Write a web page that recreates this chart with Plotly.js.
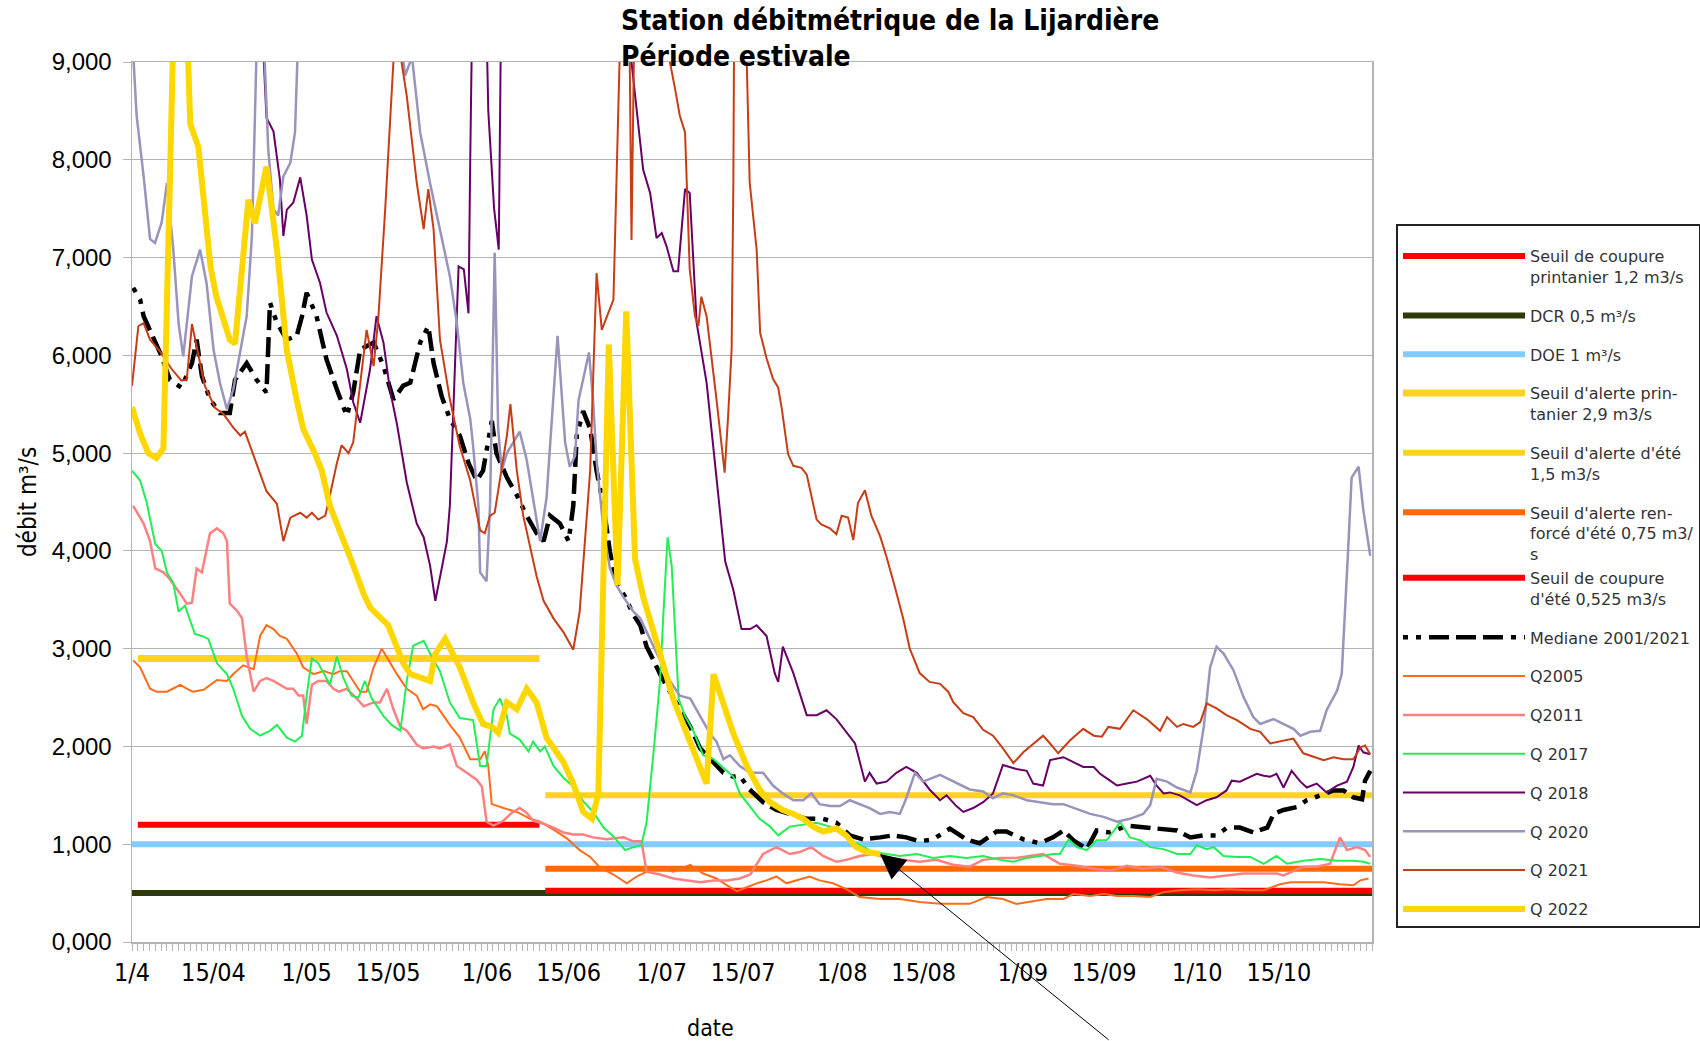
<!DOCTYPE html>
<html>
<head>
<meta charset="utf-8">
<script src="https://cdn.plot.ly/plotly-3.0.1.min.js"></script>
<style>
html,body{margin:0;padding:0;background:#fff;}
#chart{width:1700px;height:1041px;}
</style>
</head>
<body>
<div id="chart"></div>
<script>
// ---- Axis categories (day index from 1 April) ----
const tickDays = [0, 14, 30, 44, 61, 75, 91, 105, 122, 136, 153, 167, 183, 197];
const tickLabels = ['1/4', '15/04', '1/05', '15/05', '1/06', '15/06', '1/07', '15/07', '1/08', '15/08', '1/09', '15/09', '1/10', '15/10'];

// ---- Threshold lines ----
const springDays = [1, 70];
const summerDays = [71, 213];
const fullDays = [0, 213];
const seuilCoupurePrintanier = [1.2, 1.2];
const dcr = [0.5, 0.5];
const doe = [1.0, 1.0];
const seuilAlertePrintanier = [2.9, 2.9];
const seuilAlerteEte = [1.5, 1.5];
const seuilAlerteRenforce = [0.75, 0.75];
const seuilCoupureEte = [0.525, 0.525];

// ---- Mediane 2001/2021 ----
const medDays = [0.2,1.4,2,3.7,5.1,6.5,8.5,10.3,11.1,12,13.4,15.1,16.8,17.7,19.7,21.4,23.1,23.7,24.9,26.6,28.3,29.2,30,31.7,33.4,35.2,36.9,38,39.2,41.5,43.2,44.9,46.6,47.8,49.5,50.9,51.8,53.2,54.6,56.3,57.8,59.2,60.3,61.8,62.6,64.4,66.1,67.8,69.5,70.7,71.8,73.5,75,75.8,76.4,77.5,78.7,79.8,81,82.1,83.3,84.7,86.1,87.3,88.4,89.6,90.7,92.4,94.1,95.9,97.6,99.3,101.6,103.3,104.4,106.1,108.4,110.7,113,115.9,118.7,121,123.3,125.6,128.5,130.7,133,135.3,137.6,140.5,143.3,145.6,148.5,150.2,153.1,155.9,158.2,160,161.7,164,165.7,168,170.9,173.7,176.6,179.5,181.8,184.1,186.3,188.1,190.3,192.6,195,196.1,197.8,200.1,201.8,204.1,206.4,208.1,209.8,211.3,211.8,212.7];
const medVals = [6.69,6.57,6.4,6.16,5.99,5.75,5.67,5.92,6.16,5.79,5.55,5.41,5.41,5.75,5.92,5.75,5.62,6.54,6.33,6.16,6.2,6.4,6.64,6.4,5.96,5.65,5.38,5.62,6.06,6.13,5.89,5.55,5.69,5.72,6.13,6.3,5.92,5.58,5.35,5.18,4.9,4.72,4.82,5.33,5.0,4.75,4.57,4.36,4.18,4.1,4.36,4.28,4.1,4.46,5.18,5.43,5.25,4.82,4.46,3.99,3.67,3.53,3.35,3.24,3.02,2.88,2.74,2.56,2.38,2.2,1.98,1.87,1.73,1.69,1.7,1.56,1.43,1.35,1.31,1.26,1.26,1.22,1.09,1.05,1.07,1.09,1.07,1.03,1.05,1.16,1.05,1.01,1.13,1.13,1.05,1.01,1.07,1.14,1.04,0.95,1.14,1.12,1.19,1.17,1.16,1.14,1.07,1.09,1.09,1.17,1.17,1.12,1.17,1.31,1.35,1.38,1.45,1.5,1.55,1.55,1.48,1.46,1.65,1.75];

// ---- Q2005 ----
const q2005Days = [0.2,1.4,3.1,4.2,6,7.1,8.3,9.7,10.5,12.3,13.4,14.6,16.3,17.4,19.1,20.9,22,23.1,24.3,25.4,26.6,28.3,29.4,31.2,32.9,34.6,35.7,36.9,38,39.2,40.3,41.5,42.9,44.1,45.5,47.2,48.9,50,51.2,52.4,54.6,56.3,58.1,59.8,60.6,61.2,61.8,63.8,66.1,68.4,70.1,72.4,74.7,76.9,78.7,80.4,82.7,85,86.7,88.4,90.7,93,95.9,98.1,100.4,102.2,103.9,105.6,107.3,109,110.7,112.4,114.1,116.4,118.1,120.4,122.7,125,128.5,131.9,135.3,138.8,141.6,143.9,146.8,149.6,151.9,154.2,157.1,160,161.7,164.6,166.9,169.2,172,174.9,177.2,180,182.9,185.8,188.6,191.5,194.4,197.2,199,201.8,204.7,207.5,209.8,211,212.4];
const q2005Vals = [2.88,2.81,2.59,2.56,2.56,2.59,2.63,2.58,2.56,2.58,2.63,2.68,2.67,2.74,2.83,2.79,3.13,3.24,3.2,3.13,3.1,2.95,2.81,2.74,2.77,2.74,2.77,2.77,2.67,2.56,2.56,2.81,3.0,2.88,2.74,2.59,2.52,2.38,2.43,2.41,2.22,2.09,1.87,1.87,1.95,1.8,1.41,1.37,1.33,1.26,1.23,1.15,1.06,0.94,0.87,0.76,0.69,0.6,0.67,0.72,0.76,0.72,0.79,0.7,0.65,0.58,0.52,0.56,0.6,0.63,0.67,0.6,0.63,0.67,0.63,0.6,0.54,0.46,0.44,0.44,0.41,0.39,0.39,0.39,0.46,0.44,0.39,0.41,0.44,0.44,0.49,0.47,0.49,0.47,0.47,0.46,0.51,0.53,0.54,0.53,0.54,0.53,0.53,0.59,0.61,0.61,0.61,0.59,0.58,0.63,0.65];

// ---- Q2011 ----
const q2011Days = [0.2,2,3.1,4,5.4,6.5,8.3,9.4,10.3,11.1,12,13.4,14.6,15.7,16.3,16.8,18,18.9,19.7,20.9,22,23.1,24.3,25.4,26.6,27.7,28.6,29.4,30,30.9,32,33.4,34.6,35.5,36.9,38.6,39.8,41.5,42.6,43.8,44.9,46.1,47.2,48.9,50,51.8,52.9,54.6,55.8,57.5,59.2,60.1,60.9,62.1,63.8,65.2,66.6,67.8,68.9,70.7,72.4,74.1,75.8,77.5,79.2,81.5,84.4,86.1,87.5,88.4,90.7,93,95.3,97.6,99.9,102.2,104.4,106.2,108.4,110.7,113,114.7,116.7,118.7,121,122.7,125,127.3,129.6,132.5,135.3,138.2,141,143.9,146.2,149.1,151.9,154.2,156.5,158.2,159.4,162.3,165.2,168,170.9,173.7,176.6,179.5,182.3,185.2,188,190.9,193.8,196.6,197.8,201.2,203.5,205.8,207.5,208.7,210.4,211.8,212.7];
const q2011Vals = [4.46,4.28,4.1,3.82,3.78,3.71,3.56,3.46,3.47,3.82,3.78,4.18,4.23,4.18,4.1,3.46,3.39,3.31,2.92,2.56,2.67,2.7,2.67,2.63,2.59,2.59,2.52,2.52,2.23,2.63,2.67,2.67,2.59,2.56,2.59,2.49,2.41,2.45,2.45,2.59,2.38,2.2,2.16,2.02,1.98,2.0,1.98,2.02,1.8,1.73,1.66,1.59,1.23,1.19,1.24,1.32,1.37,1.32,1.24,1.21,1.17,1.12,1.1,1.1,1.07,1.05,1.07,1.03,1.03,0.72,0.69,0.65,0.63,0.61,0.63,0.63,0.65,0.69,0.9,0.97,0.9,0.92,0.97,0.88,0.82,0.84,0.88,0.9,0.86,0.84,0.82,0.84,0.79,0.77,0.84,0.86,0.86,0.88,0.9,0.84,0.8,0.78,0.75,0.73,0.78,0.75,0.77,0.71,0.68,0.66,0.68,0.7,0.7,0.7,0.68,0.77,0.77,0.8,1.07,0.94,0.97,0.94,0.87];

// ---- Q2017 ----
const q2017Days = [0,1.4,2.5,4,5.1,6,7.1,8,9.1,10.8,12,13.1,14.6,16.3,17.4,18.9,20.3,22,23.7,24.9,26.6,28,29.2,30,30.9,32,34,35.2,36.3,37.7,38.9,40,41.2,43.2,44.6,46.1,47.2,48.3,50.1,51.2,52.9,54.6,56.3,58.6,59.8,60.9,62.1,63.2,64.4,64.9,66.6,68.1,68.9,70.1,70.9,72.4,74.1,75.8,77.5,79.2,81,82.7,84.7,86.1,87.5,88.4,89.6,90.7,91.3,92,92.7,93.3,93.9,95,96.4,98.1,99.9,102.2,103.3,104.4,106.1,107.8,109.6,111,113,115.3,117.6,119.9,122.2,124.4,127.3,129.6,131.9,134.8,137.6,140.5,143.3,146.2,149.1,151.4,153.7,156,158.2,159.4,160.9,162.3,164,165.7,167.4,169.2,169.7,171.4,173.2,174.9,177.2,179.5,181.8,182.9,184.6,185.8,187.5,189.8,192.1,194.4,196.6,198.4,201.2,204.1,207,209.8,211.5,212.7];
const q2017Vals = [4.82,4.72,4.5,4.07,4.0,3.78,3.67,3.38,3.44,3.15,3.13,3.1,2.85,2.74,2.59,2.31,2.18,2.11,2.16,2.22,2.09,2.05,2.11,2.52,2.9,2.85,2.63,2.92,2.7,2.52,2.5,2.67,2.49,2.31,2.22,2.16,2.67,3.03,3.08,2.95,2.77,2.45,2.29,2.27,1.8,1.8,2.38,2.49,2.31,2.13,2.07,1.95,2.05,1.95,2.0,1.8,1.68,1.59,1.44,1.33,1.17,1.08,0.94,0.97,0.99,1.23,1.95,2.67,3.38,4.14,3.85,3.2,2.49,2.31,2.16,1.91,1.87,1.75,1.69,1.52,1.39,1.26,1.18,1.09,1.18,1.2,1.22,1.18,1.09,1.01,0.92,0.9,0.88,0.9,0.86,0.88,0.86,0.88,0.84,0.82,0.86,0.88,0.9,0.9,1.05,0.97,0.94,1.04,1.04,1.18,1.23,1.07,1.04,0.97,0.95,0.9,0.9,0.99,0.95,0.97,0.88,0.87,0.87,0.8,0.88,0.8,0.83,0.85,0.83,0.83,0.82,0.8];

// ---- Q2018 ----
const q2018Days = [22,23.1,24.3,25.4,26,26.6,27.7,28.9,30,30.9,32.3,33.4,35.2,36.9,38,39.2,40.9,42,43.2,44.3,45.5,47.2,48.9,50.1,51.2,52.1,53.2,54.1,54.6,55.2,56.1,57,57.8,58.1,58.6,60.5,61.2,62.2,63,63.4,64,84.5,85.8,87.8,89,90.1,91,91.8,93,93.8,95,95.8,97,98.7,100.4,101.9,103.3,104.7,106.2,107.3,109,110.4,111,111.8,113.6,115.9,117.6,119.3,121,122.7,124.2,125.9,126.7,127.9,129.6,131.3,133,134.8,137,138.8,139.9,141.6,142.8,144.5,146.2,147.9,149.6,151.9,153.7,154.8,156.5,157.7,160,161.7,163.4,165.2,166.3,168,169.2,170.9,172.6,174.9,176,177.2,178.3,180,181.5,182.9,184.6,186.3,188,188.9,190.3,192.1,193.2,194.4,195.5,196.6,197.8,199.2,200.7,201.8,203.5,205.2,207,208.7,209.8,210.7,211.5,212.7];
const q2018Vals = [9.8,8.43,8.29,7.8,7.22,7.49,7.56,7.82,7.43,6.98,6.74,6.44,6.2,5.86,5.52,5.31,5.86,6.4,6.13,5.65,5.3,4.7,4.28,4.14,3.85,3.49,3.82,4.1,4.46,5.5,6.91,6.88,6.43,8.0,10.2,10.5,8.5,7.5,7.08,9.5,11,11,9.0,7.9,7.66,7.2,7.25,7.12,6.86,6.86,7.7,7.66,6.33,5.72,4.72,3.89,3.6,3.2,3.2,3.24,3.13,2.75,2.66,3.02,2.75,2.32,2.32,2.37,2.28,2.15,2.03,1.64,1.73,1.62,1.64,1.73,1.79,1.73,1.56,1.45,1.5,1.39,1.33,1.37,1.43,1.52,1.81,1.77,1.75,1.62,1.6,1.86,1.89,1.84,1.79,1.79,1.72,1.65,1.6,1.62,1.64,1.7,1.6,1.52,1.53,1.5,1.45,1.4,1.45,1.48,1.55,1.65,1.64,1.69,1.72,1.7,1.69,1.72,1.58,1.75,1.64,1.58,1.62,1.53,1.6,1.64,1.79,2.01,1.94,1.92];

// ---- Q2020 ----
const q2020Days = [0,0.8,2,3.1,3.95,5.1,6,7.1,8,8.8,10.3,11.7,12.8,14,15.1,16.3,17.4,18.6,19.7,20.6,21.1,21.6,22.4,23.4,24.3,25.1,26,27.2,28,28.8,29.5,45.5,46.9,48.1,49.5,51.2,52.9,54.6,55.8,56.9,58.1,58.6,59.5,59.8,60.9,61.5,62.3,62.9,63.5,64.4,65.5,66.6,67.8,68.9,70.1,71.2,72.1,73.1,74.4,75.2,76.1,76.7,78.5,79.2,79.8,81,82.1,83.3,84.4,86.1,87.3,88.4,89.6,90.7,92.4,94.1,95.9,97.6,99.3,100.4,101.6,102.7,104.4,106.2,108.4,110.1,111.8,113.6,115.3,116.7,118.1,119.9,121.6,123.3,125,126.7,128.5,130.2,131.9,133,134.5,135.9,138.8,141.1,143.9,146.2,147.9,149.6,151.4,153.7,156,158.2,160,162.3,164.6,166.9,169.2,171.4,173.7,174.9,176,177.8,179.5,181.8,182.9,184.1,185.2,186.3,187.5,189.2,190.9,192.6,193.8,196.1,197.8,199.5,200.7,202.4,204.1,205.2,207,207.8,208.9,209.5,210.7,211.5,212.7];
const q2020Vals = [9.3,8.45,7.83,7.19,7.15,7.36,7.76,7.08,6.33,5.99,6.81,7.08,6.74,6.06,5.72,5.45,5.65,6.06,6.4,7.22,8.45,9.6,9.6,8.11,7.49,7.43,7.83,7.97,8.28,9.5,11,9.6,8.86,9.05,8.28,7.76,7.29,6.81,6.33,5.72,5.35,5.07,4.46,3.78,3.69,4.46,7.05,5.25,4.82,5.0,5.11,5.22,4.93,4.54,4.1,4.54,5.36,6.2,5.11,4.86,4.97,5.54,6.03,5.54,4.93,4.21,3.82,3.64,3.53,3.38,3.31,3.17,3.03,2.88,2.67,2.52,2.49,2.31,2.13,2.05,1.87,1.91,1.8,1.73,1.73,1.6,1.52,1.45,1.45,1.52,1.41,1.39,1.39,1.45,1.41,1.37,1.31,1.33,1.31,1.47,1.73,1.64,1.71,1.64,1.56,1.54,1.47,1.52,1.5,1.45,1.43,1.41,1.41,1.36,1.31,1.28,1.23,1.26,1.31,1.4,1.67,1.64,1.58,1.53,1.75,2.2,2.81,3.02,2.95,2.78,2.51,2.3,2.23,2.28,2.23,2.18,2.11,2.15,2.16,2.37,2.57,2.74,4.01,4.75,4.86,4.42,3.95];

// ---- Q2021 ----
const q2021Days = [0,1.1,2,3.1,4.8,6.8,8.5,9.4,10.3,11.4,12.5,14.3,15.7,17.4,18.6,19.4,20.9,22,23.1,24.9,26,27.2,28.9,30,30.9,32,33.2,34,35.2,36,37.2,38,39.2,40.3,41.5,42.3,43.5,44.9,45.6,46.3,47.2,48.9,50.1,50.9,51.8,52.9,54.6,56.3,58.1,59.8,60.6,61.5,62.3,63.2,64.4,65,66.1,67.2,68.4,69.5,70.7,72.4,74.1,75.8,76.9,77.8,78.7,79.8,80.7,82.7,83.2,83.8,84.6,85.5,85.8,86.2,86.8,91.8,92.4,93.3,94.1,95,95.3,95.8,96.7,97.3,97.8,98.7,100.4,101.8,102.4,103,103.3,103.4,104.4,105.2,105.6,106.1,107.3,107.9,109,110.1,111,111.6,112.7,113.6,115,115.9,117.6,118.4,119.9,121,121.9,123,123.9,124.7,125.9,127,128.5,129.6,131,132.5,133.6,135.3,137,138.8,140.2,141.1,142.8,144.5,146.2,147.9,149.6,151.4,153.1,154.8,156.5,157.7,159.1,161.1,163.4,165.2,166.6,167.7,169.7,172,174.3,176.6,177.8,179.5,180.6,182.3,183.5,184.6,186.3,188,189.8,192.1,193.8,195.5,197.8,199.5,201.2,203,204.7,206.4,208.1,209.8,211,211.8,212.7];
const q2021Vals = [5.69,6.3,6.33,6.16,6.04,5.86,5.74,5.75,6.32,5.99,5.69,5.46,5.4,5.26,5.18,5.22,4.97,4.79,4.61,4.48,4.1,4.34,4.39,4.34,4.39,4.32,4.36,4.57,4.9,5.08,5.0,5.11,5.7,6.26,5.89,6.37,7.5,9.0,10.5,9.0,8.65,7.77,7.29,7.7,7.29,6.16,5.55,5.07,4.72,4.21,4.18,4.36,4.39,4.75,5.18,5.5,4.82,4.36,4.03,3.74,3.49,3.31,3.17,2.99,3.38,4.1,4.82,6.84,6.26,6.57,7.77,9.0,11,9.0,7.18,9.0,11,11,9.0,8.72,8.45,8.28,7.7,6.88,6.4,6.3,6.6,6.4,5.55,4.8,5.38,6.06,7.77,9.0,11,10,9.0,7.77,7.08,6.23,5.97,5.76,5.67,5.46,4.99,4.87,4.85,4.78,4.32,4.27,4.23,4.17,4.36,4.34,4.11,4.49,4.62,4.36,4.15,3.94,3.64,3.3,3.0,2.75,2.66,2.64,2.56,2.45,2.34,2.3,2.17,2.11,1.98,1.83,1.94,2.03,2.11,2.03,1.93,2.06,2.18,2.11,2.1,2.2,2.18,2.37,2.28,2.16,2.3,2.2,2.23,2.2,2.25,2.44,2.39,2.32,2.27,2.18,2.15,2.03,2.06,2.08,1.93,1.89,1.86,1.89,1.87,1.87,1.99,2.01,1.92];

// ---- Q2022 ----
const q2022Days = [0,1.4,2.8,4.2,5.4,6,7,8,9,10,11.4,12.5,13.5,14.5,16.8,17.7,19,20,21.1,23.1,24.9,26.6,28.3,29.4,31.4,32.6,34,35.7,37.5,39.8,40.9,44,45.5,46.6,47.8,49.5,51.2,52.1,53.8,56.3,58.6,60.3,61.8,62.9,64.4,66.1,67.8,69.5,71.2,74.1,75.8,77.5,79,80.1,81,81.9,83.4,84.9,86.4,87.8,89.6,91.3,93,95.3,97,98.7,99.9,101.6,103.3,105.6,107.8,109.6,111.8,113.6,115.3,117,118.7,121,122.7,124.4,126.2,128.5];
const q2022Vals = [5.47,5.2,5.0,4.95,5.05,6.8,9.6,11.5,10.2,8.37,8.13,7.4,6.9,6.6,6.16,6.12,6.9,7.59,7.35,7.93,7.08,6.05,5.54,5.25,5.0,4.82,4.46,4.21,3.93,3.56,3.42,3.24,3.02,2.85,2.74,2.7,2.67,2.95,3.1,2.81,2.45,2.23,2.2,2.14,2.45,2.38,2.59,2.45,2.09,1.84,1.62,1.33,1.26,1.51,4.1,6.11,3.65,6.45,3.92,3.53,3.17,2.81,2.48,2.13,1.87,1.62,2.74,2.41,2.13,1.8,1.56,1.43,1.35,1.31,1.26,1.18,1.13,1.16,1.09,0.97,0.92,0.9];

const NARROW = '"Liberation Sans Narrow", "DejaVu Sans Condensed", "Arial Narrow", sans-serif';
const LEG = '"DejaVu Sans", sans-serif';

function line(name, x, y, color, width, dash, gi) {
  return {
    type: 'scatter', mode: 'lines', name: name, x: x, y: y,
    line: {color: color, width: width, dash: dash || 'solid'},
    legendgroup: 'g' + gi, hoverinfo: 'skip'
  };
}

const traces = [
  line('Seuil de coupure<br>printanier 1,2 m3/s', springDays, seuilCoupurePrintanier, '#ff0000', 6, null, 1),
  line('DCR 0,5 m³/s', fullDays, dcr, '#2e3b08', 6, null, 2),
  line('DOE 1 m³/s', fullDays, doe, '#83caff', 6, null, 3),
  line('Seuil d\'alerte prin-<br>tanier 2,9 m3/s', springDays, seuilAlertePrintanier, '#ffd320', 7, null, 4),
  line('Seuil d\'alerte d\'été<br>1,5 m3/s', summerDays, seuilAlerteEte, '#ffd320', 6, null, 5),
  line('Seuil d\'alerte ren-<br>forcé d\'été 0,75 m3/<br>s', summerDays, seuilAlerteRenforce, '#ff6a00', 6, null, 6),
  line('Seuil de coupure<br>d\'été 0,525 m3/s', summerDays, seuilCoupureEte, '#ff0000', 6, null, 6),
  line('Mediane 2001/2021', medDays, medVals, '#000000', 4.5, '5px,8px,5px,8px,20px,7px,20px,7px,20px,8px', 8),
  line('Q2005', q2005Days, q2005Vals, '#ff6d1c', 2, null, 9),
  line('Q2011', q2011Days, q2011Vals, '#ff8080', 2.5, null, 10),
  line('Q 2017', q2017Days, q2017Vals, '#22ee55', 2, null, 11),
  line('Q 2018', q2018Days, q2018Vals, '#660066', 2, null, 12),
  line('Q 2020', q2020Days, q2020Vals, '#9a93bb', 2.5, null, 13),
  line('Q 2021', q2021Days, q2021Vals, '#c83c16', 2, null, 14),
  line('Q 2022', q2022Days, q2022Vals, '#ffd700', 6, null, 15)
];

const lastI = q2022Days.length - 1;

const layout = {
  width: 1700, height: 1041,
  margin: {l: 132, r: 328, t: 62, b: 99, autoexpand: false},
  paper_bgcolor: '#ffffff', plot_bgcolor: '#ffffff',
  separators: ', ',
  showlegend: true,
  title: {
    text: 'Station débitmétrique de la Lijardière<br>Période estivale',
    xref: 'container', x: 621/1700, xanchor: 'left',
    yref: 'container', y: 1 - 30/1041, yanchor: 'top',
    font: {family: NARROW, size: 28, weight: 'bold', color: '#000'}
  },
  xaxis: {
    range: [0, 213], tickmode: 'array', tickvals: tickDays, ticktext: tickLabels,
    ticks: 'outside', ticklen: 7, tickcolor: '#b3b3b3', tickwidth: 1,
    showgrid: false, zeroline: false, showline: true, linecolor: '#b3b3b3', linewidth: 1.5, mirror: true,
    tickfont: {family: NARROW, size: 25, color: '#000'},
    minor: {tickmode: 'linear', tick0: 0, dtick: 1, ticks: 'outside', ticklen: 7, tickcolor: '#b3b3b3', showgrid: false}
  },
  yaxis: {
    range: [0, 9], tick0: 0, dtick: 1, tickformat: '.3f',
    ticks: 'outside', ticklen: 8, tickcolor: '#b3b3b3',
    showgrid: true, gridcolor: '#b3b3b3', gridwidth: 1.2,
    zeroline: false, showline: true, linecolor: '#b3b3b3', linewidth: 1.5, mirror: true,
    tickfont: {family: '"Liberation Sans", Arial, sans-serif', size: 24, color: '#000'},
    ticklabelstandoff: 6,
    title: {text: 'débit m³/s', font: {family: NARROW, size: 24, color: '#000'}, standoff: 8}
  },
  legend: {
    x: (1396 - 132) / 1240, xanchor: 'left', y: (942 - 224) / 880, yanchor: 'top',
    bgcolor: '#ffffff', bordercolor: '#222', borderwidth: 2,
    font: {family: LEG, size: 16, color: '#333'},
    title: {text: ' ', font: {family: LEG, size: 10}},
    itemwidth: 122, valign: 'top', tracegroupgap: 15, traceorder: 'grouped'
  },
  annotations: [
    {
      x: q2022Days[lastI], y: q2022Vals[lastI], xref: 'x', yref: 'y',
      ax: 230, ay: 187, showarrow: true, arrowhead: 2, arrowsize: 5, arrowwidth: 1,
      arrowcolor: '#000', text: '', standoff: 0
    },
    {
      text: 'date', xref: 'paper', yref: 'paper', x: (710 - 132) / 1240, y: (942 - 1028) / 880,
      xanchor: 'center', yanchor: 'middle', showarrow: false,
      font: {family: NARROW, size: 23, color: '#000'}
    }
  ]
};

Plotly.newPlot('chart', traces, layout, {displayModeBar: false, staticPlot: true});
</script>
</body>
</html>
